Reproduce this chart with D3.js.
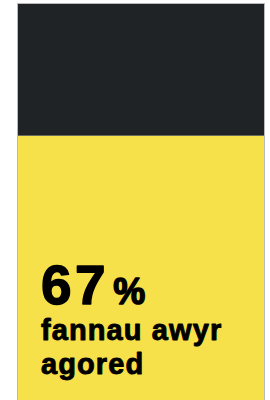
<!DOCTYPE html>
<html><head><meta charset="utf-8">
<script src="https://cdn.jsdelivr.net/npm/d3@7"></script>
<style>html,body{margin:0;padding:0;background:#fff;}svg{display:block;}</style>
</head><body>
<script>
const categories = ["fannau awyr agored", "arall"];
const values = [67, 33];
const labelLines = ["fannau awyr", "agored"];
const colors = ["#f6e14b", "#202326"];

const W = 270, H = 400;
const svg = d3.select("body").append("svg").attr("width", W).attr("height", H);

const x0 = 17, x1 = 265, yTop = 3, yBottom = 405;
const y = d3.scaleLinear().domain([0, 100]).range([yBottom, yTop]);

let acc = 0;
const segs = values.map((v, i) => { const s = {cat: categories[i], v, lo: acc, hi: acc + v, c: colors[i]}; acc += v; return s; });

svg.selectAll("rect.seg").data(segs).join("rect")
  .attr("class", "seg")
  .attr("x", x0).attr("width", x1 - x0)
  .attr("y", d => y(d.hi)).attr("height", d => y(d.lo) - y(d.hi))
  .attr("fill", d => d.c);

svg.append("rect").attr("x", x0 + 0.5).attr("y", yTop + 0.5)
  .attr("width", x1 - x0 - 1).attr("height", yBottom - yTop)
  .attr("fill", "none").attr("stroke", "#b9b9b9").attr("stroke-width", 1);

const font = "'Liberation Sans', Arial, sans-serif";
const t = svg.append("text").attr("x", 41).attr("y", 304)
  .attr("font-family", font).attr("font-weight", "bold").attr("fill", "#000")
  .attr("stroke", "#000").attr("stroke-width", 1.4).attr("stroke-linejoin", "round");
t.append("tspan").attr("font-size", 55).attr("letter-spacing", 3.5).text(values[0]);
t.append("tspan").attr("font-size", 36).attr("dx", 4).attr("letter-spacing", 0).text("%");

svg.selectAll("text.lbl").data(labelLines).join("text")
  .attr("class", "lbl")
  .attr("x", 41).attr("y", (d, i) => 340 + i * 34)
  .attr("font-family", font).attr("font-weight", "bold").attr("font-size", 29)
  .attr("letter-spacing", 1.1)
  .attr("stroke", "#000").attr("stroke-width", 0.9).attr("stroke-linejoin", "round")
  .attr("fill", "#000").text(d => d);
</script>
</body></html>
